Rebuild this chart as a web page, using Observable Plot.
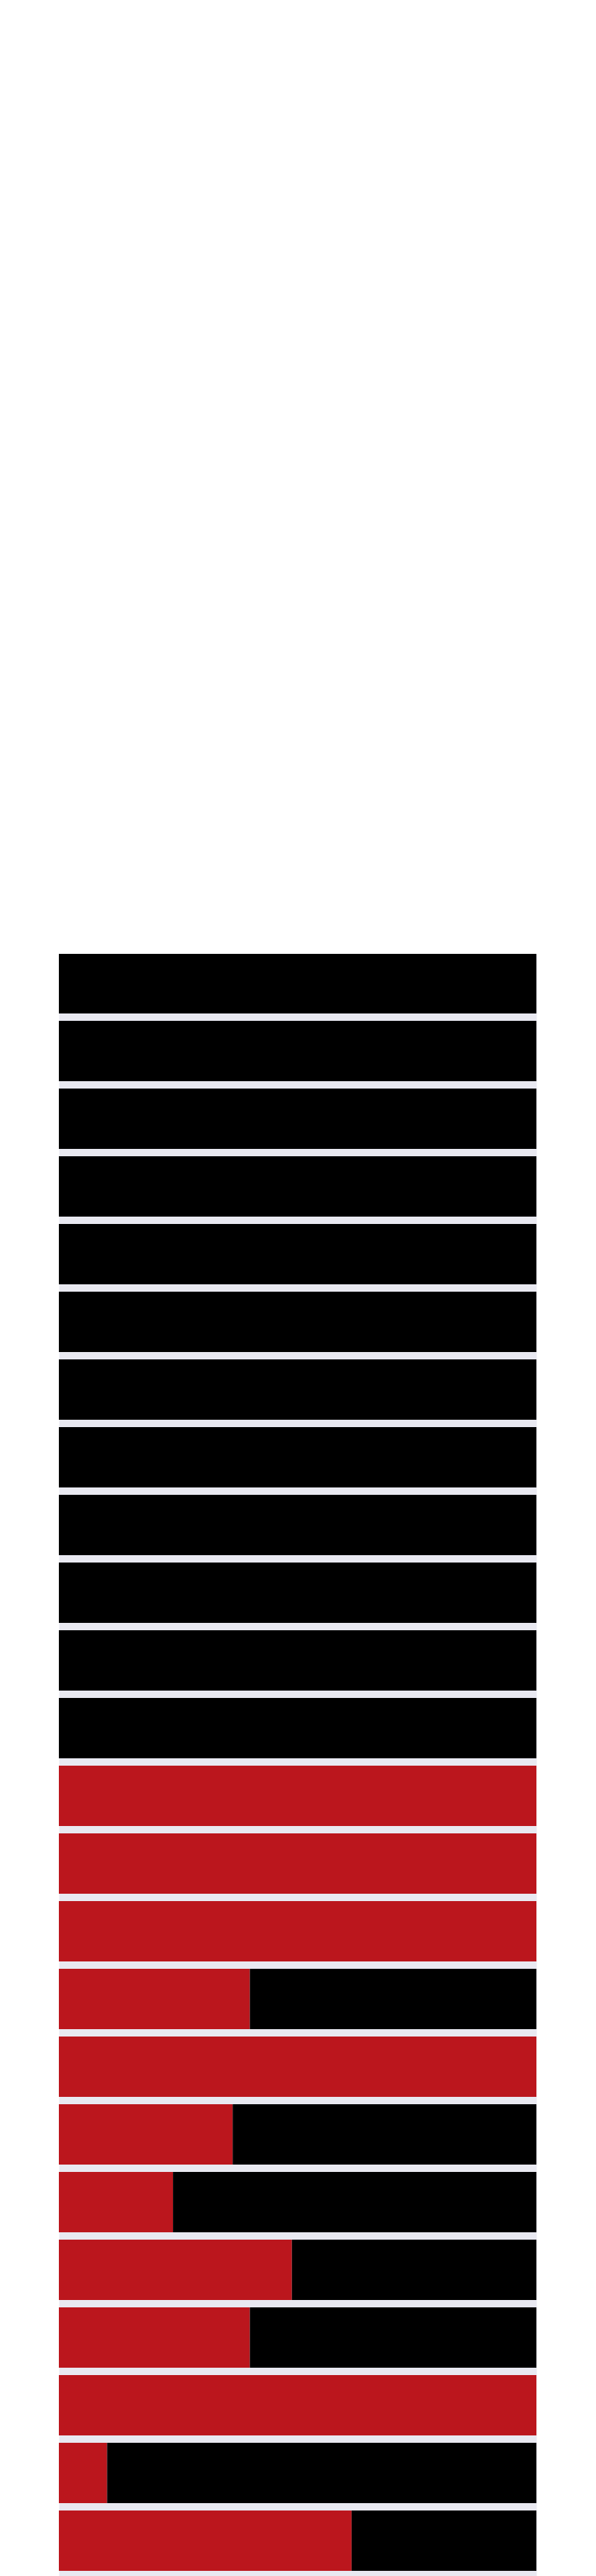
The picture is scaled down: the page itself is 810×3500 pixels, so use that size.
<!DOCTYPE html>
<html>
<head>
<meta charset="utf-8">
<script src="https://cdn.jsdelivr.net/npm/d3@7"></script>
<script src="https://cdn.jsdelivr.net/npm/@observablehq/plot@0.6"></script>
<style>
  html, body { margin: 0; padding: 0; background: #ffffff; }
  #chart svg { display: block; }
</style>
</head>
<body>
<div id="chart"></div>
<script>
// Rows, top to bottom (no labels are shown in the reference)
const rows = ["R1","R2","R3","R4","R5","R6","R7","R8","R9","R10","R11","R12",
              "R13","R14","R15","R16","R17","R18","R19","R20","R21","R22","R23","R24"];
// Share of each row filled red (the remainder is black)
const redShare = [0,0,0,0,0,0,0,0,0,0,0,0,
                  1,1,1,0.40,1,0.364,0.239,0.488,0.40,1,0.101,0.613];
const seriesNames = ["share", "rest"];
const seriesColors = ["#bb161d", "#000000"];

const table = [];
rows.forEach((r, i) => {
  const s = redShare[i];
  if (s > 0) table.push({row: r, series: "share", x1: 0, x2: s});
  if (s < 1) table.push({row: r, series: "rest", x1: s, x2: 1});
});

const chart = Plot.plot({
  width: 810,
  height: 3500,
  marginTop: 1296,
  marginBottom: 0,
  marginLeft: 80,
  marginRight: 81,
  style: {background: "#ffffff"},
  x: {domain: [0, 1], axis: null},
  y: {type: "band", domain: rows, range: [1289.5, 3498.4], paddingInner: 0.108, paddingOuter: 0, axis: null},
  color: {type: "ordinal", domain: seriesNames, range: seriesColors},
  marks: [
    Plot.frame({fill: "#e9e9f1", stroke: null}),
    Plot.barX(table, {y: "row", x1: "x1", x2: "x2", fill: "series", clip: true})
  ]
});
document.getElementById("chart").appendChild(chart);
</script>
</body>
</html>
